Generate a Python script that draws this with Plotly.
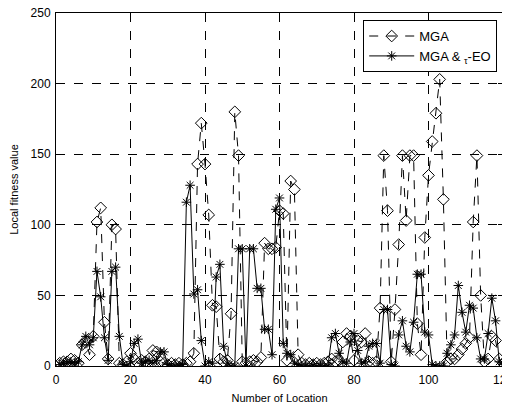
import plotly.graph_objects as go

x_loc = list(range(1, 121))

mga = [2, 3, 3, 5, 4, 2, 15, 18, 8, 21,
       102, 112, 31, 5, 100, 97, 2, 1, 3, 9,
       5, 2, 4, 3, 5, 11, 10, 3, 2, 1,
       2, 1, 2, 1, 2, 3, 9, 143, 172, 143,
       107, 43, 42, 5, 3, 4, 37, 180, 149, 3,
       2, 3, 4, 3, 6, 87, 83, 83, 84, 110,
       108, 4, 131, 125, 8, 2, 1, 2, 1, 2,
       1, 2, 3, 5, 3, 4, 17, 23, 21, 4,
       18, 17, 23, 3, 2, 3, 41, 149, 110, 3,
       40, 86, 149, 103, 149, 149, 30, 8, 91, 135,
       159, 179, 203, 118, 3, 5, 5, 8, 12, 16,
       20, 102, 149, 50, 3, 5, 21, 18, 5, 2]

mga_eo = [1, 2, 2, 3, 2, 3, 15, 21, 15, 20,
          67, 49, 20, 4, 67, 70, 21, 1, 0, 3,
          16, 19, 2, 3, 4, 2, 4, 10, 10, 1,
          0, 0, 0, 1, 116, 128, 51, 54, 18, 0,
          3, 2, 63, 72, 14, 2, 0, 0, 83, 83,
          0, 83, 83, 55, 55, 26, 26, 8, 111, 119,
          16, 9, 8, 2, 1, 0, 0, 0, 0, 0,
          0, 0, 0, 20, 23, 9, 3, 2, 17, 23,
          11, 2, 3, 14, 16, 16, 2, 40, 40, 1,
          0, 22, 32, 14, 10, 31, 65, 65, 24, 22,
          1, 0, 0, 0, 9, 15, 22, 57, 38, 24,
          43, 41, 20, 5, 5, 23, 48, 32, 3, 1]

x_ticks = [0, 20, 40, 60, 80, 100, 120]
y_ticks = [0, 50, 100, 150, 200, 250]

FONT = "Liberation Sans, Arial, sans-serif"

fig = go.Figure()
fig.add_trace(go.Scatter(
    x=x_loc, y=mga, mode="lines+markers", name="MGA",
    line=dict(color="black", width=1, dash="dash"),
    marker=dict(symbol="diamond-open", size=9, color="black", line=dict(width=1, color="black")),
))
fig.add_trace(go.Scatter(
    x=x_loc, y=mga_eo, mode="lines+markers", name="MGA & <sub>τ</sub>-EO",
    line=dict(color="black", width=1),
    marker=dict(symbol="asterisk-open", size=8, color="black", line=dict(width=1, color="black")),
))

axis_common = dict(
    showline=True, linecolor="black", linewidth=1, mirror="ticks",
    ticks="inside", ticklen=5, tickcolor="black",
    showgrid=True, gridcolor="black", gridwidth=1, griddash="dash",
    zeroline=False, ticklabeloverflow="allow",
    tickfont=dict(family=FONT, size=12, color="black"),
)

fig.update_xaxes(range=[0, 120], tickvals=x_ticks, ticklabelstandoff=3,
                 title=dict(text="Number of Location", font=dict(family=FONT, size=11, color="black"), standoff=7),
                 **axis_common)
fig.update_yaxes(range=[0, 250], tickvals=y_ticks, ticklabelstandoff=2,
                 title=dict(text="Local fitness value", font=dict(family=FONT, size=11, color="black"), standoff=12),
                 **axis_common)

fig.update_layout(
    width=502, height=396,
    margin=dict(l=48, r=7, t=5, b=38, autoexpand=False),
    paper_bgcolor="white", plot_bgcolor="white",
    font=dict(family=FONT, size=11, color="black"),
    showlegend=True,
    legend=dict(x=0.987, y=0.98, xanchor="right", yanchor="top",
                bgcolor="white", bordercolor="black", borderwidth=1,
                font=dict(family=FONT, size=13, color="black"),
                itemwidth=45, tracegroupgap=2),
)

fig.write_html("out.html")
